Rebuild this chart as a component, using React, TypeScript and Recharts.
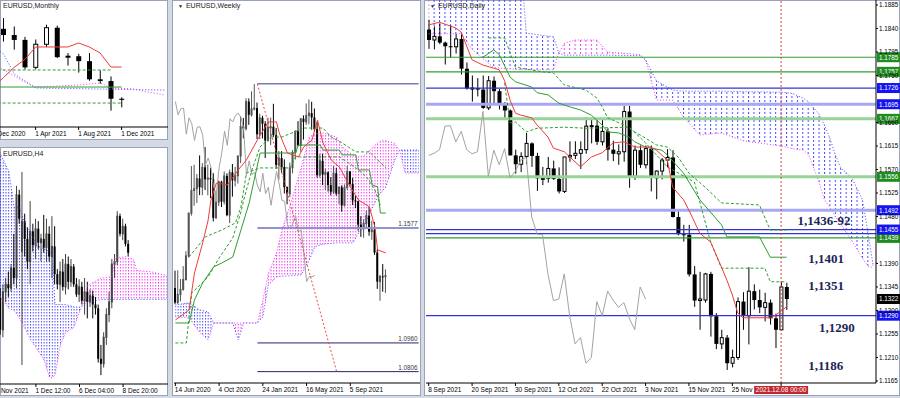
import React from 'react';
import { ComposedChart, Bar, Line, Area, XAxis, YAxis, ReferenceLine, ReferenceDot } from 'recharts';

type OHLC = [number, number, number, number];
type Pt = [number, number];
type Span = [number, number, number];

// ---------- Daily, 8 Sep – 9 Dec 2021 (o, h, l, c) ----------
const dailyCandles: OHLC[] = [
  [1.1838, 1.1857, 1.1801, 1.1818], [1.1818, 1.1844, 1.18, 1.1825], [1.1825, 1.185, 1.181, 1.1813],
  [1.1813, 1.1815, 1.1771, 1.1806], [1.1806, 1.1846, 1.1784, 1.1805], [1.1805, 1.183, 1.1792, 1.182],
  [1.182, 1.183, 1.1752, 1.1763], [1.1763, 1.1775, 1.1723, 1.1725], [1.1725, 1.175, 1.17, 1.1726],
  [1.1726, 1.1745, 1.171, 1.1723], [1.1723, 1.175, 1.1686, 1.1688], [1.1688, 1.1749, 1.1684, 1.174],
  [1.174, 1.1748, 1.1697, 1.172], [1.172, 1.1724, 1.1685, 1.1695], [1.1695, 1.1699, 1.1669, 1.1683],
  [1.1683, 1.1685, 1.1597, 1.1597], [1.1597, 1.1608, 1.1562, 1.158], [1.158, 1.1603, 1.1565, 1.1595],
  [1.1595, 1.164, 1.158, 1.162], [1.162, 1.1622, 1.1575, 1.1596], [1.1596, 1.1602, 1.1529, 1.1553],
  [1.1553, 1.1575, 1.154, 1.1553], [1.1553, 1.1594, 1.1545, 1.1572], [1.1572, 1.1587, 1.155, 1.1552],
  [1.1552, 1.1574, 1.1524, 1.1528], [1.1528, 1.1594, 1.1525, 1.1594], [1.1594, 1.1624, 1.1585, 1.1597],
  [1.1597, 1.1624, 1.159, 1.1601], [1.1601, 1.1624, 1.1571, 1.1608], [1.1608, 1.167, 1.16, 1.1653],
  [1.1653, 1.1668, 1.162, 1.1654], [1.1654, 1.1665, 1.1617, 1.1623], [1.1623, 1.1668, 1.1616, 1.1643],
  [1.1643, 1.1649, 1.1587, 1.1608], [1.1608, 1.1625, 1.1586, 1.16], [1.16, 1.1618, 1.1579, 1.1604],
  [1.1604, 1.1692, 1.1585, 1.1681], [1.1681, 1.1692, 1.1535, 1.1557], [1.1557, 1.1616, 1.155, 1.1607],
  [1.1607, 1.1616, 1.1573, 1.1579], [1.1579, 1.1616, 1.1572, 1.161], [1.161, 1.1616, 1.1528, 1.1554],
  [1.1554, 1.1568, 1.1513, 1.1567], [1.1567, 1.1592, 1.1551, 1.1588], [1.1588, 1.1609, 1.1574, 1.1593],
  [1.1593, 1.1607, 1.1478, 1.1479], [1.1479, 1.149, 1.1444, 1.1446], [1.1446, 1.1464, 1.1432, 1.1445],
  [1.1445, 1.1464, 1.1365, 1.1369], [1.1369, 1.1385, 1.1307, 1.1319], [1.1319, 1.1374, 1.1263, 1.1322],
  [1.132, 1.1372, 1.1315, 1.137], [1.137, 1.1374, 1.125, 1.1289], [1.1289, 1.1295, 1.1226, 1.1236],
  [1.1236, 1.1263, 1.1226, 1.1248], [1.1248, 1.1253, 1.1186, 1.1199], [1.1199, 1.1225, 1.1191, 1.121],
  [1.121, 1.1325, 1.1205, 1.1317], [1.1317, 1.1335, 1.1263, 1.129], [1.129, 1.1383, 1.1235, 1.1337],
  [1.1337, 1.135, 1.1302, 1.132], [1.132, 1.134, 1.1295, 1.1306], [1.1306, 1.1334, 1.1279, 1.1315],
  [1.1315, 1.1321, 1.1273, 1.1285], [1.1285, 1.1294, 1.1228, 1.1263], [1.1263, 1.1355, 1.1262, 1.1345],
  [1.1345, 1.1353, 1.1301, 1.1322],
];
const dailyTenkan: Pt[] = [
  [0, 1.1847], [2, 1.1852], [5, 1.1841], [6, 1.1833], [8, 1.178], [10, 1.177], [12, 1.1764], [13, 1.1761],
  [14, 1.174], [15, 1.1703], [16, 1.1678], [17, 1.1674], [19, 1.1669], [20, 1.1655], [22, 1.1632], [23, 1.1611],
  [25, 1.1604], [26, 1.1594], [28, 1.1575], [30, 1.1594], [32, 1.1602], [34, 1.1621], [36, 1.1623], [38, 1.1613],
  [41, 1.1613], [42, 1.1607], [44, 1.1588], [45, 1.1536], [47, 1.1512], [48, 1.1492], [50, 1.1448], [52, 1.1431],
  [54, 1.1383], [55, 1.1358], [56, 1.133], [57, 1.1295], [58, 1.1286], [63, 1.1286], [64, 1.1291], [66, 1.1307],
];
const dailyKijun: Pt[] = [
  [10, 1.1785], [12, 1.1799], [13, 1.179], [15, 1.1747], [16, 1.1738], [19, 1.1728], [20, 1.1717], [22, 1.1713],
  [24, 1.1697], [26, 1.169], [28, 1.1684], [30, 1.1674], [32, 1.1655], [33, 1.1642], [35, 1.164], [37, 1.1632],
  [38, 1.1623], [40, 1.1613], [43, 1.1607], [44, 1.1598], [47, 1.1563], [50, 1.1512], [54, 1.1464], [55, 1.1441],
  [61, 1.1441], [63, 1.1402], [66, 1.1402],
];
const dailyUpperDash: Pt[] = [
  [11, 1.1822], [14, 1.1822], [16, 1.1766], [21, 1.1757], [23, 1.1755], [25, 1.1732], [29, 1.1722], [31, 1.1707],
  [32, 1.169], [33, 1.1669], [36, 1.1655], [38, 1.1642], [40, 1.163], [42, 1.1617], [44, 1.1613], [46, 1.1594],
  [48, 1.1563], [51, 1.1536], [54, 1.1506], [61, 1.1502], [63, 1.1454], [66, 1.1454],
];
const dailyLowerDash: Pt[] = [
  [14, 1.1736], [15, 1.1659], [16, 1.1661], [18, 1.1642], [20, 1.1649], [25, 1.1651], [29, 1.1649], [37, 1.1651],
  [40, 1.1621], [44, 1.1575], [49, 1.1546], [52, 1.1431], [54, 1.1381], [62, 1.1381], [63, 1.1355], [66, 1.1355],
];
// [bar, senkou A, senkou B]
const dailyCloud: Span[] = [
  [0, 1.196, 1.183], [6, 1.196, 1.183], [8, 1.196, 1.18], [12, 1.196, 1.1765], [17, 1.196, 1.1761],
  [18, 1.1831, 1.1761], [23, 1.1824, 1.1761], [24, 1.1793, 1.1793], [25, 1.1789, 1.1812], [27, 1.1789, 1.1818],
  [31, 1.1789, 1.1818], [33, 1.1789, 1.1795], [39, 1.1788, 1.179], [40, 1.178, 1.178], [42, 1.174, 1.1703],
  [45, 1.1722, 1.1703], [47, 1.172, 1.167], [50, 1.172, 1.1636], [54, 1.172, 1.164], [58, 1.1719, 1.1625],
  [65, 1.1718, 1.1615], [67, 1.1716, 1.161], [69, 1.1707, 1.1607], [70, 1.17, 1.16], [72, 1.1676, 1.1546],
  [73, 1.1655, 1.1512], [74, 1.163, 1.1497], [75, 1.1598, 1.148], [76, 1.1573, 1.1465], [78, 1.1555, 1.1434],
  [80, 1.1512, 1.14], [81, 1.145, 1.1385], [82, 1.1385, 1.1382],
];
const dailyTickAt = [0, 8, 16, 24, 32, 40, 48, 56];
const dailyTickText = ['8 Sep 2021', '20 Sep 2021', '30 Sep 2021', '12 Oct 2021', '22 Oct 2021', '3 Nov 2021', '15 Nov 2021', '25 Nov 2021'];
const dailyCursorAt = 65;
const dailyCursorText = '2021.12.08 00:00';
// 1.1705 and 1.1435 sit fully under the 1.1695 / 1.1439 tags, so they are left out
const dailyPriceTicks = [1.1165, 1.121, 1.1255, 1.13, 1.1345, 1.139, 1.148, 1.1525, 1.157, 1.1615, 1.166, 1.175, 1.1795, 1.184, 1.1885];
const dailyGreenLevels = [1.1785, 1.1757, 1.1439];
const dailyGreenBands = [1.1667, 1.1556];
const dailyBlueLevels = [1.1726, 1.1455, 1.1447, 1.129];
const dailyBlueBands = [1.1695, 1.1492];
const dailyUntagged = [1.1447];
const dailyLastPrice = 1.1322;
const dailyNotes = ['1,1436-92', '1,1401', '1,1351', '1,1290', '1,1186'];
const dailyNoteAt: Pt[] = [[68, 1.1464], [70, 1.1391], [70, 1.1339], [72, 1.1259], [70, 1.1186]];

// ---------- Weekly, 14 Jun 2020 – 5 Dec 2021 ----------
const weeklyCandles: OHLC[] = [
  [1.1255, 1.1348, 1.1168, 1.1177], [1.1177, 1.1349, 1.1168, 1.122], [1.122, 1.1303, 1.1183, 1.1247],
  [1.1247, 1.1372, 1.124, 1.13], [1.13, 1.1452, 1.1295, 1.1427], [1.1427, 1.166, 1.1418, 1.1656],
  [1.1656, 1.1909, 1.1643, 1.1778], [1.1778, 1.1916, 1.1696, 1.1788], [1.1788, 1.1866, 1.1711, 1.1842],
  [1.1842, 1.1966, 1.1753, 1.1795], [1.1795, 1.1925, 1.1753, 1.1902], [1.1902, 1.2011, 1.178, 1.1838],
  [1.1838, 1.1917, 1.1752, 1.1845], [1.1845, 1.19, 1.1737, 1.1838], [1.1838, 1.1871, 1.1612, 1.1631],
  [1.1631, 1.1771, 1.1627, 1.1715], [1.1715, 1.1831, 1.1695, 1.1825], [1.1825, 1.183, 1.1689, 1.1718],
  [1.1718, 1.188, 1.1702, 1.1856], [1.1856, 1.187, 1.164, 1.1646], [1.1646, 1.189, 1.1603, 1.1875],
  [1.1875, 1.192, 1.1745, 1.1832], [1.1832, 1.1905, 1.18, 1.1857], [1.1857, 1.1964, 1.1815, 1.1963],
  [1.1963, 1.2177, 1.1925, 1.2121], [1.2121, 1.2167, 1.2058, 1.211], [1.211, 1.2273, 1.21, 1.2255],
  [1.2255, 1.2272, 1.213, 1.2184], [1.2184, 1.231, 1.2175, 1.2216], [1.2216, 1.2349, 1.2207, 1.222],
  [1.222, 1.225, 1.2054, 1.208], [1.208, 1.219, 1.2054, 1.2168], [1.2168, 1.2179, 1.2057, 1.2136],
  [1.2136, 1.215, 1.1952, 1.2046], [1.2046, 1.2169, 1.204, 1.2117], [1.2117, 1.2169, 1.2022, 1.212],
  [1.212, 1.2243, 1.2065, 1.2075], [1.2075, 1.2113, 1.1894, 1.1915], [1.1915, 1.199, 1.1836, 1.1952],
  [1.1952, 1.1989, 1.1873, 1.1904], [1.1904, 1.1945, 1.1762, 1.1796], [1.1796, 1.18, 1.1704, 1.1761],
  [1.1761, 1.1928, 1.1742, 1.19], [1.19, 1.1995, 1.187, 1.1982], [1.1982, 1.21, 1.1944, 1.2096],
  [1.2096, 1.215, 1.2015, 1.202], [1.202, 1.2167, 1.1986, 1.2163], [1.2163, 1.2181, 1.2051, 1.2146],
  [1.2146, 1.2245, 1.213, 1.218], [1.218, 1.2266, 1.2133, 1.2193], [1.2193, 1.2254, 1.2104, 1.217],
  [1.217, 1.2218, 1.2093, 1.2107], [1.2107, 1.2145, 1.1847, 1.186], [1.186, 1.1975, 1.1847, 1.1937],
  [1.1937, 1.1975, 1.1807, 1.1864], [1.1864, 1.1895, 1.1782, 1.1875], [1.1875, 1.188, 1.1772, 1.1807],
  [1.1807, 1.185, 1.1752, 1.1771], [1.1771, 1.1909, 1.1759, 1.187], [1.187, 1.19, 1.175, 1.1761],
  [1.1761, 1.18, 1.1705, 1.1795], [1.1795, 1.1806, 1.1664, 1.1698], [1.1698, 1.181, 1.1692, 1.1794],
  [1.1794, 1.1909, 1.178, 1.188], [1.188, 1.1883, 1.18, 1.1813], [1.1813, 1.1846, 1.17, 1.1725],
  [1.1725, 1.175, 1.1684, 1.172], [1.172, 1.1724, 1.1562, 1.1595], [1.1595, 1.164, 1.1529, 1.1572],
  [1.1572, 1.1624, 1.1524, 1.1601], [1.1601, 1.167, 1.1571, 1.1643], [1.1643, 1.1692, 1.1535, 1.1557],
  [1.1557, 1.1616, 1.1513, 1.1567], [1.1567, 1.1609, 1.1432, 1.1445], [1.1445, 1.1464, 1.125, 1.1289],
  [1.1289, 1.1325, 1.1186, 1.1317], [1.1317, 1.1383, 1.1235, 1.1315], [1.1315, 1.1355, 1.1228, 1.1322],
];
const weeklyTenkan: Pt[] = [
  [0, 1.1083], [5, 1.1137], [7, 1.1336], [10, 1.1497], [12, 1.162], [13, 1.1727], [15, 1.1818], [19, 1.1808],
  [23, 1.1888], [26, 1.1942], [30, 1.2049], [34, 1.2146], [37, 1.2146], [38, 1.2087], [41, 1.1979], [45, 1.1958],
  [47, 1.2012], [50, 1.2049], [52, 1.2156], [54, 1.2033], [57, 1.1942], [60, 1.1904], [64, 1.1797], [67, 1.1727],
  [71, 1.169], [73, 1.1582], [74, 1.1459], [77, 1.1443],
];
const weeklyKijun: Pt[] = [
  [0, 1.1067], [5, 1.1067], [7, 1.1191], [10, 1.1282], [14, 1.1368], [17, 1.1389], [21, 1.1421], [24, 1.1566],
  [27, 1.1711], [31, 1.1979], [44, 1.1979], [45, 1.2022], [53, 1.2022], [54, 1.1995], [60, 1.1995], [61, 1.1969],
  [66, 1.1969], [67, 1.1888], [71, 1.1888], [72, 1.1808], [74, 1.1797], [75, 1.1657], [77, 1.1657],
];
const weeklyUpperDash: Pt[] = [
  [0, 1.096], [4, 1.096], [6, 1.1228], [12, 1.1314], [16, 1.1416], [21, 1.1523], [24, 1.1663], [25, 1.1727],
  [28, 1.1888], [31, 1.2012], [35, 1.2065], [39, 1.2065], [47, 1.2113], [54, 1.2113], [57, 1.2065], [61, 1.2033],
  [66, 1.1985], [71, 1.1985], [74, 1.1942], [77, 1.19],
];
const weeklyLowerDash: Pt[] = [
  [5, 1.1421], [11, 1.1529], [17, 1.1566], [22, 1.1604], [24, 1.169], [26, 1.1872], [31, 1.1899], [42, 1.1899],
  [44, 1.1958], [60, 1.1958], [66, 1.19], [70, 1.185], [73, 1.178], [75, 1.17],
];
const weeklyCloud: Span[] = [
  [0, 1.1164, 1.11], [5, 1.1175, 1.1094], [9, 1.1137, 1.1014], [12, 1.1126, 1.0976], [14, 1.1067, 1.1067],
  [21, 1.1067, 1.1067], [23, 1.0976, 1.1067], [25, 1.1067, 1.1067], [30, 1.1067, 1.1067], [32, 1.11, 1.1191],
  [34, 1.1271, 1.133], [37, 1.1314, 1.1443], [39, 1.1318, 1.1566], [42, 1.132, 1.17], [46, 1.1325, 1.19],
  [49, 1.1405, 1.2065], [51, 1.1475, 1.208], [54, 1.149, 1.2087], [59, 1.1497, 1.2065], [61, 1.1497, 1.2012],
  [64, 1.1497, 1.1979], [65, 1.1497, 1.197], [67, 1.155, 1.1958], [69, 1.1582, 1.1965], [70, 1.162, 1.1979],
  [74, 1.1743, 1.2033], [76, 1.178, 1.2049], [77, 1.1797, 1.2045], [80, 1.193, 1.2033], [82, 1.1995, 1.1995],
  [84, 1.1995, 1.1872], [89, 1.1995, 1.1872],
];
const weeklyTickAt = [0, 16, 32, 48, 64];
const weeklyTickText = ['14 Jun 2020', '4 Oct 2020', '24 Jan 2021', '16 May 2021', '5 Sep 2021'];
const weeklyHigh = 1.235;
const weeklyLevels = [1.1577, 1.096, 1.0806];
const weeklyLevelFrom = 30;
const weeklyTrend: Pt[] = [[30, 1.235], [59, 1.0806]];

// ---------- Monthly, Sep 2020 – Dec 2021 ----------
const monthlyCandles: OHLC[] = [
  [1.1935, 1.2011, 1.1612, 1.172], [1.172, 1.1881, 1.1612, 1.1646], [1.1646, 1.196, 1.1603, 1.1927],
  [1.1927, 1.231, 1.1925, 1.2214], [1.2214, 1.2349, 1.2054, 1.2136], [1.2136, 1.2243, 1.1952, 1.2075],
  [1.2075, 1.2113, 1.1704, 1.173], [1.173, 1.208, 1.1704, 1.202], [1.202, 1.2266, 1.1986, 1.2228],
  [1.2228, 1.2254, 1.1847, 1.1858], [1.1858, 1.1909, 1.1752, 1.187], [1.187, 1.19, 1.1664, 1.1808],
  [1.1808, 1.1909, 1.1562, 1.158], [1.158, 1.1692, 1.1524, 1.1558], [1.1558, 1.1616, 1.1186, 1.1336],
  [1.1336, 1.1355, 1.1228, 1.1322],
];
const monthlyTenkan: Pt[] = [
  [3, 1.148], [4, 1.16], [5, 1.173], [6, 1.183], [7, 1.1986], [10, 1.1986], [11, 1.2036], [12, 1.1986],
  [13, 1.191], [14, 1.1734], [15, 1.1734],
];
const monthlyKijun: Pt[] = [[3, 1.1483], [15, 1.1483]];
const monthlyDashA: Pt[] = [[3, 1.1697], [14, 1.1697]];
const monthlyDashB: Pt[] = [[3, 1.1282], [15, 1.1282]];
const monthlySpanA: Pt[] = [[3, 1.199], [4, 1.19], [5, 1.165], [6, 1.156], [7, 1.1471], [19, 1.1445]];
const monthlySpanB: Pt[] = [[3, 1.176], [4, 1.17], [6, 1.1546], [7, 1.1483], [11, 1.1508], [13, 1.1533], [14, 1.1471], [16, 1.146], [19, 1.1383]];
const monthlyTickAt = [3, 7, 11, 15];
const monthlyTickText = ['1 Dec 2020', '1 Apr 2021', '1 Aug 2021', '1 Dec 2021'];

// ---------- H4, 26 Nov – 9 Dec 2021 ----------
const h4Start = 3;
const h4Candles: OHLC[] = [
  [1.1289, 1.1297, 1.126, 1.1264], [1.1264, 1.13, 1.1258, 1.1294], [1.1294, 1.1305, 1.1286, 1.13],
  [1.13, 1.131, 1.129, 1.1297], [1.1297, 1.1316, 1.1294, 1.1313], [1.1313, 1.134, 1.13, 1.1305],
  [1.1305, 1.1378, 1.1297, 1.1371], [1.1371, 1.1375, 1.1348, 1.1352], [1.1326, 1.1389, 1.1236, 1.135],
  [1.135, 1.1356, 1.1322, 1.1336], [1.1336, 1.1345, 1.1312, 1.1318], [1.1318, 1.1366, 1.13, 1.1342],
  [1.1342, 1.1348, 1.1326, 1.1331], [1.1331, 1.1352, 1.132, 1.1344], [1.1344, 1.135, 1.1328, 1.1333],
  [1.1333, 1.134, 1.1318, 1.1336], [1.1336, 1.1355, 1.1325, 1.1329], [1.1329, 1.1352, 1.1318, 1.134],
  [1.134, 1.1346, 1.1318, 1.1322], [1.1322, 1.1354, 1.1305, 1.133], [1.133, 1.1346, 1.13, 1.1308],
  [1.1308, 1.1312, 1.1296, 1.13], [1.13, 1.1318, 1.1286, 1.131], [1.131, 1.132, 1.1295, 1.1298],
  [1.1298, 1.1324, 1.1292, 1.1316], [1.1316, 1.1322, 1.1296, 1.1302], [1.1302, 1.132, 1.1298, 1.1314],
  [1.1314, 1.1316, 1.1298, 1.13], [1.13, 1.1305, 1.129, 1.1292], [1.1292, 1.1304, 1.1286, 1.1298],
  [1.1298, 1.1302, 1.1284, 1.1287], [1.1287, 1.1305, 1.1276, 1.1294], [1.1294, 1.1302, 1.1273, 1.1286],
  [1.1286, 1.1296, 1.1282, 1.1291], [1.1291, 1.1295, 1.1273, 1.1284], [1.1284, 1.129, 1.1276, 1.1281],
  [1.1281, 1.1284, 1.1238, 1.1241], [1.1241, 1.1252, 1.1228, 1.1237], [1.1237, 1.1262, 1.1234, 1.1258],
  [1.1258, 1.1281, 1.1252, 1.1276], [1.1276, 1.1294, 1.127, 1.1286], [1.1286, 1.132, 1.1281, 1.1316],
  [1.1316, 1.1324, 1.1305, 1.1318], [1.1318, 1.1358, 1.1315, 1.1354], [1.1354, 1.1356, 1.1338, 1.134],
  [1.134, 1.1352, 1.1335, 1.1346], [1.1346, 1.1348, 1.133, 1.1332], [1.1332, 1.1335, 1.1322, 1.1325],
];
const h4Cloud: Span[] = [
  [0, 1.142, 1.1295], [3, 1.1403, 1.129], [6, 1.139, 1.1281], [8, 1.1361, 1.1279], [10, 1.1361, 1.1273],
  [12, 1.1347, 1.1265], [14, 1.1342, 1.1256], [16, 1.1331, 1.125], [19, 1.1328, 1.124], [21, 1.1326, 1.1226],
  [22, 1.1323, 1.1226], [23, 1.1284, 1.1228], [25, 1.1284, 1.1252], [27, 1.1284, 1.1262], [30, 1.1282, 1.1266],
  [32, 1.1282, 1.1278], [33, 1.1283, 1.1283], [35, 1.1286, 1.1299], [40, 1.1288, 1.1305], [44, 1.1288, 1.1306],
  [45, 1.1288, 1.1321], [50, 1.1288, 1.1322], [52, 1.1288, 1.1319], [53, 1.1288, 1.1311], [58, 1.1288, 1.131],
  [64, 1.1288, 1.1307],
];
const h4TickAt = [0, 16, 32, 48];
const h4TickText = ['26 Nov 2021', '1 Dec 12:00', '6 Dec 04:00', '8 Dec 20:00'];

const FONT = '"Liberation Sans", Arial, sans-serif';
const RED = '#f03a3a';
const GREEN = '#2f9e2f';
const GREY = '#a3a3a3';
const CLOUD_UP = '#4848ff';
const CLOUD_DN = '#f23cf2';

function buildRows(n: number, candles: OHLC[], start: number, lines: Record<string, Pt[]>, cloud: Span[], lag = 0) {
  const rows: any[] = [];
  for (let i = 0; i < n; i++) {
    const k = i - start;
    const c = k >= 0 && k < candles.length ? candles[k] : null;
    const row: any = { i, range: c ? [c[2], c[1]] : null, ohlc: c };
    Object.keys(lines).forEach((key) => {
      const p = lines[key].find((q) => q[0] === i);
      row[key] = p ? p[1] : null;
    });
    const s = cloud.find((q) => q[0] === i);
    row.spanA = s ? s[1] : null;
    row.spanB = s ? s[2] : null;
    row.up = s && s[1] >= s[2] ? [s[2], s[1]] : null;
    row.dn = s && s[2] >= s[1] ? [s[1], s[2]] : null;
    if (lag) {
      const src = k >= 0 ? candles[k + lag] : undefined;
      row.chikou = src ? src[3] : null;
    }
    rows.push(row);
  }
  return rows;
}

function candleShape(bodyW: number, bullFill: string, bullEdge: string) {
  return (props: any) => {
    const { x, y, width, height, payload } = props;
    const k: OHLC | null = payload ? payload.ohlc : null;
    if (!k) return <g />;
    const [o, h, l, c] = k;
    const top = Math.min(y, y + height);
    const bot = Math.max(y, y + height);
    const at = (v: number) => (h === l ? top : top + ((h - v) / (h - l)) * (bot - top));
    const cx = x + width / 2;
    const up = c >= o;
    const bt = at(Math.max(o, c));
    const bh = Math.max(at(Math.min(o, c)) - bt, 1);
    return (
      <g>
        <line x1={cx} x2={cx} y1={top} y2={bot} stroke={up ? bullEdge : '#000'} strokeWidth={1} />
        {up ? (
          <rect x={cx - bodyW / 2 + 0.5} y={bt} width={bodyW - 1} height={bh} fill={bullFill} stroke={bullEdge} strokeWidth={1} />
        ) : (
          <rect x={cx - bodyW / 2} y={bt} width={bodyW} height={bh} fill="#000" />
        )}
      </g>
    );
  };
}

function dateTick(at: number[], text: string[], cursorAt?: number, cursorText?: string) {
  return (p: any) => {
    const v = p.payload.value;
    if (v === cursorAt) {
      return (
        <g>
          <rect x={p.x - 27} y={p.y - 2} width={54} height={8} fill="#c0282e" />
          <text x={p.x} y={p.y + 4.3} textAnchor="middle" fontSize={6.5} fontFamily={FONT} fill="#fff">{cursorText}</text>
        </g>
      );
    }
    return (
      <text x={p.x - 0.5} y={p.y + 4} textAnchor="start" fontSize={6.5} fontFamily={FONT} fill="#000">{text[at.indexOf(v)]}</text>
    );
  };
}

const priceTick = (p: any) => (
  <text x={p.x} y={p.y + 2.3} textAnchor="start" fontSize={6.3} fontFamily={FONT} fill="#000">{Number(p.payload.value).toFixed(4)}</text>
);

const AxisTag = (props: any) => {
  const vb = props.viewBox || {};
  const x = (vb.x || 0) + (vb.width || 0);
  return (
    <g>
      <rect x={x + 1} y={vb.y - 5} width={24} height={10} fill={props.bg} />
      <text x={x + 3} y={vb.y + 2.3} fontSize={6.3} fontFamily={FONT} fill="#fff">{props.text}</text>
    </g>
  );
};

const Note = (props: any) => {
  const vb = props.viewBox || {};
  return (
    <text x={vb.x + 1} y={vb.y + 1} fontSize={13} fontWeight="bold" fontFamily='"Liberation Serif", "Times New Roman", serif' fill="#1b2556">{props.text}</text>
  );
};

const SegTag = (props: any) => {
  const vb = props.viewBox || {};
  return (
    <text x={vb.x + vb.width - 1} y={vb.y - 2} textAnchor="end" fontSize={6.3} fontFamily={FONT} fill="#3a3a3a">{props.text}</text>
  );
};

function hatch(id: string, color: string, x0: number, step: number, h: number) {
  return (
    <pattern id={id} patternUnits="userSpaceOnUse" x={x0} y={0} width={step} height={h}>
      <rect x={0} y={0} width={1} height={h / 2} fill={color} />
    </pattern>
  );
}

function cloudLayers(prefix: string) {
  return [
    <Area key="u" dataKey="up" type="linear" stroke="none" fill={`url(#${prefix}Up)`} fillOpacity={1} connectNulls activeDot={false} isAnimationActive={false} />,
    <Area key="d" dataKey="dn" type="linear" stroke="none" fill={`url(#${prefix}Dn)`} fillOpacity={1} connectNulls activeDot={false} isAnimationActive={false} />,
    <Line key="a" dataKey="spanA" type="linear" stroke={CLOUD_UP} strokeDasharray="1 2" dot={false} activeDot={false} connectNulls isAnimationActive={false} />,
    <Line key="b" dataKey="spanB" type="linear" stroke={CLOUD_DN} strokeDasharray="1 2" dot={false} activeDot={false} connectNulls isAnimationActive={false} />,
  ];
}

const line = (key: string, color: string, dash?: string, w = 1) => (
  <Line dataKey={key} type="linear" stroke={color} strokeWidth={w} strokeDasharray={dash} dot={false} activeDot={false} connectNulls isAnimationActive={false} />
);

function DailyChart() {
  const rows = buildRows(83, dailyCandles, 0, { tenkan: dailyTenkan, kijun: dailyKijun, du: dailyUpperDash, dl: dailyLowerDash }, dailyCloud, 26);
  const tagged = (v: number) => !dailyUntagged.includes(v);
  return (
    <ComposedChart width={476} height={398} data={rows} margin={{ top: 0, right: 0, bottom: 0, left: 2 }}>
      <defs>
        {hatch('dUp', CLOUD_UP, 2 + 2.2, 450 / 83, 4)}
        {hatch('dDn', CLOUD_DN, 2 + 2.2, 450 / 83, 4)}
      </defs>
      <XAxis dataKey="i" type="category" height={15} interval={0} ticks={[...dailyTickAt, dailyCursorAt]}
        tick={dateTick(dailyTickAt, dailyTickText, dailyCursorAt, dailyCursorText)} tickSize={3}
        axisLine={{ stroke: '#000' }} tickLine={{ stroke: '#000' }} />
      <YAxis orientation="right" width={24} domain={[1.11611, 1.18946]} allowDataOverflow ticks={dailyPriceTicks}
        interval={0} tick={priceTick} tickSize={2} tickMargin={1} axisLine={{ stroke: '#000' }} tickLine={{ stroke: '#000' }} />
      {cloudLayers('d')}
      {dailyGreenBands.map((v) => (
        <ReferenceLine key={`gb${v}`} y={v} stroke="#98d498" strokeWidth={3} label={<AxisTag bg="#1f8c1f" text={v.toFixed(4)} />} />
      ))}
      {dailyBlueBands.map((v) => (
        <ReferenceLine key={`bb${v}`} y={v} stroke="#a7a7f4" strokeWidth={3} label={<AxisTag bg="#1414f0" text={v.toFixed(4)} />} />
      ))}
      {dailyGreenLevels.map((v) => (
        <ReferenceLine key={`g${v}`} y={v} stroke={GREEN} strokeWidth={1.2} label={<AxisTag bg="#1f8c1f" text={v.toFixed(4)} />} />
      ))}
      {dailyBlueLevels.map((v) => (
        <ReferenceLine key={`b${v}`} y={v} stroke="#3434d6" strokeWidth={1.2}
          label={tagged(v) ? <AxisTag bg="#1414f0" text={v.toFixed(4)} /> : undefined} />
      ))}
      <ReferenceLine y={dailyLastPrice} stroke="transparent" label={<AxisTag bg="#000" text={dailyLastPrice.toFixed(4)} />} />
      {line('chikou', GREY)}
      {line('du', GREEN, '3 2')}
      {line('dl', GREEN, '3 2')}
      {line('kijun', GREEN)}
      {line('tenkan', RED)}
      <ReferenceLine x={dailyCursorAt} stroke="#e04040" strokeDasharray="2 2" />
      <Bar dataKey="range" barSize={4} shape={candleShape(4, '#fff', '#000')} activeBar={false} isAnimationActive={false} />
      {dailyNotes.map((t, n) => (
        <ReferenceDot key={t} x={dailyNoteAt[n][0]} y={dailyNoteAt[n][1]} r={1} fill="none" stroke="none" label={<Note text={t} />} />
      ))}
    </ComposedChart>
  );
}

function WeeklyChart() {
  const rows = buildRows(90, weeklyCandles, 0, { tenkan: weeklyTenkan, kijun: weeklyKijun, du: weeklyUpperDash, dl: weeklyLowerDash }, weeklyCloud, 26);
  const last = 89;
  return (
    <ComposedChart width={246} height={398} data={rows} margin={{ top: 0, right: 0, bottom: 0, left: 0 }}>
      <defs>
        {hatch('wUp', CLOUD_UP, 0.9, 246 / 90, 3)}
        {hatch('wDn', CLOUD_DN, 0.9, 246 / 90, 3)}
      </defs>
      <XAxis dataKey="i" type="category" height={15} interval={0} ticks={weeklyTickAt}
        tick={dateTick(weeklyTickAt, weeklyTickText)} tickSize={3} axisLine={{ stroke: '#000' }} tickLine={{ stroke: '#000' }} />
      <YAxis hide domain={[1.0745, 1.28]} allowDataOverflow />
      {cloudLayers('w')}
      {line('chikou', GREY)}
      {line('du', GREEN, '3 2')}
      {line('dl', GREEN, '3 2')}
      {line('kijun', GREEN)}
      {line('tenkan', RED)}
      <ReferenceLine segment={[{ x: weeklyLevelFrom, y: weeklyHigh }, { x: last, y: weeklyHigh }]} stroke="#7a7abb" strokeWidth={1.5} />
      <ReferenceLine segment={[{ x: weeklyLevelFrom, y: weeklyLevels[0] }, { x: last, y: weeklyLevels[0] }]} stroke="#9393cc" strokeWidth={2}
        label={<SegTag text={weeklyLevels[0].toFixed(4)} />} />
      {weeklyLevels.slice(1).map((v) => (
        <ReferenceLine key={v} segment={[{ x: weeklyLevelFrom, y: v }, { x: last, y: v }]} stroke="#25256e" strokeWidth={1}
          label={<SegTag text={v.toFixed(4)} />} />
      ))}
      <ReferenceLine segment={[{ x: weeklyTrend[0][0], y: weeklyTrend[0][1] }, { x: weeklyTrend[1][0], y: weeklyTrend[1][1] }]}
        stroke="#f04848" strokeDasharray="2 2" />
      <Bar dataKey="range" barSize={2} shape={candleShape(2, '#8a8a8a', '#555')} activeBar={false} isAnimationActive={false} />
    </ComposedChart>
  );
}

function MonthlyChart() {
  const rows = buildRows(20, monthlyCandles, 0, {
    tenkan: monthlyTenkan, kijun: monthlyKijun, da: monthlyDashA, db: monthlyDashB, sa: monthlySpanA, sb: monthlySpanB,
  }, []);
  return (
    <ComposedChart width={215} height={140} data={rows} margin={{ top: 0, right: 0, bottom: 0, left: 0 }}>
      <XAxis dataKey="i" type="category" height={13} interval={0} ticks={monthlyTickAt}
        tick={dateTick(monthlyTickAt, monthlyTickText)} tickSize={3} axisLine={{ stroke: '#000' }} tickLine={{ stroke: '#000' }} />
      <YAxis hide domain={[1.0981, 1.2576]} allowDataOverflow />
      {line('sa', CLOUD_UP, '1 2')}
      {line('sb', CLOUD_DN, '1 2')}
      {line('da', GREEN, '3 2')}
      {line('db', GREEN, '3 2')}
      {line('kijun', GREEN)}
      {line('tenkan', RED)}
      <Bar dataKey="range" barSize={5} shape={candleShape(5, '#fff', '#000')} activeBar={false} isAnimationActive={false} />
    </ComposedChart>
  );
}

function H4Chart() {
  const rows = buildRows(65, h4Candles, h4Start, {}, h4Cloud);
  return (
    <ComposedChart width={177} height={251} data={rows} margin={{ top: 1, right: 0, bottom: 0, left: 0 }}>
      <defs>
        {hatch('hUp', CLOUD_UP, 0.9, 177 / 65, 3)}
        {hatch('hDn', CLOUD_DN, 0.9, 177 / 65, 3)}
      </defs>
      <XAxis dataKey="i" type="category" height={14} interval={0} ticks={h4TickAt}
        tick={dateTick(h4TickAt, h4TickText)} tickSize={3} axisLine={{ stroke: '#000' }} tickLine={{ stroke: '#000' }} />
      <YAxis hide domain={[1.1221, 1.1408]} allowDataOverflow />
      {cloudLayers('h')}
      <Bar dataKey="range" barSize={2} shape={candleShape(2, '#8a8a8a', '#444')} activeBar={false} isAnimationActive={false} />
    </ComposedChart>
  );
}

const Panel = ({ left, top, w, h, children }: any) => (
  <div style={{ position: 'absolute', left, top, width: w, height: h, background: '#fff', overflow: 'hidden', boxShadow: 'inset 0 0 0 1px #9aa3b5' }}>
    {children}
  </div>
);

const Title = ({ x, y, text, arrow }: any) => (
  <div style={{ position: 'absolute', left: x, top: y, fontFamily: FONT, fontSize: 7, color: '#1a1a1a', whiteSpace: 'nowrap', lineHeight: '8px' }}>
    {arrow ? <span style={{ fontSize: 5, marginRight: 3 }}>▼</span> : null}
    {text}
  </div>
);

export default function App() {
  return (
    <div style={{ position: 'absolute', left: 0, top: 0, width: 900, height: 398, background: '#d3dae6', overflow: 'hidden' }}>
      <Panel left={0} top={0} w={168} h={140}>
        <div style={{ position: 'absolute', left: -45, top: 0 }}><MonthlyChart /></div>
        <Title x={3} y={2} text="EURUSD,Monthly" />
      </Panel>
      <Panel left={0} top={147} w={168} h={249}>
        <div style={{ position: 'absolute', left: -9, top: 0 }}><H4Chart /></div>
        <Title x={3} y={3} text="EURUSD,H4" />
      </Panel>
      <Panel left={172} top={0} w={249} h={396}>
        <div style={{ position: 'absolute', left: 2, top: 0 }}><WeeklyChart /></div>
        <Title x={6} y={2} text="EURUSD,Weekly" arrow />
      </Panel>
      <Panel left={424} top={0} w={476} h={396}>
        <div style={{ position: 'absolute', left: 0, top: 0 }}><DailyChart /></div>
        <Title x={6} y={2} text="EURUSD,Daily" arrow />
      </Panel>
    </div>
  );
}
